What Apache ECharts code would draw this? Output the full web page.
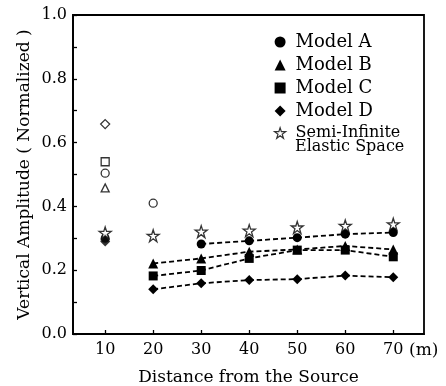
<!DOCTYPE html>
<html>
<head>
<meta charset="utf-8">
<script src="https://cdn.jsdelivr.net/npm/echarts@6/dist/echarts.min.js"></script>
<style>
html,body{margin:0;padding:0;background:#fff;}
#chart{width:446px;height:386px;}
</style>
</head>
<body>
<div id="chart"></div>
<script>
// ---- data ----
var distances = [10, 20, 30, 40, 50, 60, 70];
var tickValues = [10, 20, 30, 40, 50, 60, 70];
var modelA = [null, null, 0.282, 0.292, 0.302, 0.313, 0.318];
var modelB = [null, 0.221, 0.237, 0.258, 0.265, 0.276, 0.265];
var modelC = [null, 0.182, 0.199, 0.237, 0.263, 0.263, 0.242];
var modelD = [null, 0.140, 0.159, 0.169, 0.172, 0.183, 0.178];
var semiInfinite = [0.317, 0.308, 0.321, 0.324, 0.334, 0.339, 0.344];
// isolated filled points at 10 m
var nearA = [[10, 0.300]];
var nearD = [[10, 0.290]];
// open markers
var openA = [[10, 0.504], [20, 0.410]];
var openB = [[10, 0.458]];
var openC = [[10, 0.540]];
var openD = [[10, 0.658]];

var FONT = 'DejaVu Serif';
var STAR = 'path://M50,2 L61,36 L97,36 L68,57 L79,92 L50,70 L21,92 L32,57 L3,36 L39,36 Z';

function pairs(arr) {
  var out = [];
  for (var i = 0; i < distances.length; i++) {
    if (arr[i] !== null) out.push([distances[i], arr[i]]);
  }
  return out;
}

function lineSeries(name, arr, symbol, size) {
  return {
    name: name, type: 'line', data: pairs(arr),
    symbol: symbol, symbolSize: size,
    itemStyle: {color: '#000'},
    lineStyle: {color: '#000', width: 1.8, type: [5, 3]},
    z: 3
  };
}

function openSeries(name, data, symbol, size) {
  return {
    name: name, type: 'scatter', data: data,
    symbol: symbol, symbolSize: size,
    itemStyle: {color: '#fff', borderColor: '#000', borderWidth: 1.3},
    z: 3
  };
}

var chart = echarts.init(document.getElementById('chart'), null, {renderer: 'canvas'});
chart.setOption({
  animation: false,
  backgroundColor: '#fff',
  grid: {left: 73, right: 22, top: 15, bottom: 52, show: true, borderColor: '#000', borderWidth: 1.8,
         containLabel: false, outerBoundsMode: 'none'},
  legend: {
    orient: 'vertical', left: 274, top: 33, padding: 0,
    itemWidth: 11, itemHeight: 11, itemGap: 5,
    textStyle: {fontFamily: FONT, fontSize: 18, color: '#000', padding: [0, 0, 0, 5]},
    formatter: function (n) { return n === 'Semi-Infinite Elastic Space' ? 'Semi-Infinite' : n; },
    data: [
      {name: 'Model A', icon: 'circle', itemStyle: {color: '#000'}},
      {name: 'Model B', icon: 'triangle', itemStyle: {color: '#000'}},
      {name: 'Model C', icon: 'rect', itemStyle: {color: '#000'}},
      {name: 'Model D', icon: 'diamond', itemStyle: {color: '#000'}},
      {name: 'Semi-Infinite Elastic Space', icon: STAR,
       itemStyle: {color: '#fff', borderColor: '#000', borderWidth: 1.2},
       textStyle: {fontSize: 16}}
    ]
  },
  graphic: [{
    type: 'text', left: 295, top: 139,
    style: {text: 'Elastic Space', fontFamily: FONT, fontSize: 16, fill: '#000'}
  }],
  xAxis: [{
    type: 'value', min: 3.3, max: 76.4,
    name: 'Distance from the Source', nameLocation: 'middle', nameGap: 35, nameMoveOverlap: false,
    nameTextStyle: {fontFamily: FONT, fontSize: 17, color: '#000'},
    axisLine: {lineStyle: {color: '#000', width: 1.8}},
    axisTick: {inside: true, length: 4, lineStyle: {color: '#000', width: 1.3}, customValues: tickValues},
    axisLabel: {fontFamily: FONT, fontSize: 16, color: '#000', margin: 8, customValues: tickValues},
    splitLine: {show: false}
  }, {
    type: 'value', min: 3.3, max: 76.4, position: 'bottom',
    name: '(m)', nameLocation: 'end', nameGap: -15, nameMoveOverlap: false,
    nameTextStyle: {fontFamily: FONT, fontSize: 17, color: '#000', verticalAlign: 'top', padding: [8, 0, 0, 0]},
    axisLine: {show: false}, axisTick: {show: false}, axisLabel: {show: false}, splitLine: {show: false}
  }],
  yAxis: {
    type: 'value', min: 0, max: 1, interval: 0.1,
    name: 'Vertical Amplitude ( Normalized )', nameLocation: 'middle', nameGap: 40, nameMoveOverlap: false,
    nameTextStyle: {fontFamily: FONT, fontSize: 17, color: '#000'},
    axisLine: {show: true, lineStyle: {color: '#000', width: 1.8}},
    axisTick: {show: true, inside: true, length: 4, lineStyle: {color: '#000', width: 1.3}},
    axisLabel: {
      fontFamily: FONT, fontSize: 16, color: '#000', margin: 6,
      formatter: function (v) { return Math.round(v * 10) % 2 === 0 ? v.toFixed(1) : ''; }
    },
    splitLine: {show: false}
  },
  series: [
    lineSeries('Model A', modelA, 'circle', 9),
    lineSeries('Model B', modelB, 'triangle', 10),
    lineSeries('Model C', modelC, 'rect', 9),
    lineSeries('Model D', modelD, 'diamond', 10),
    {name: 'Model D', type: 'scatter', data: nearD, symbol: 'diamond', symbolSize: 10, itemStyle: {color: '#000'}, z: 3},
    {name: 'Model A', type: 'scatter', data: nearA, symbol: 'circle', symbolSize: 9, itemStyle: {color: '#000'}, z: 3},
    openSeries('Model A (open)', openA, 'circle', 8),
    openSeries('Model B (open)', openB, 'triangle', 8),
    openSeries('Model C (open)', openC, 'rect', 8),
    openSeries('Model D (open)', openD, 'diamond', 9),
    {
      name: 'Semi-Infinite Elastic Space', type: 'scatter', data: pairs(semiInfinite),
      symbol: STAR, symbolSize: 12,
      itemStyle: {color: '#fff', borderColor: '#000', borderWidth: 1.3},
      z: 5
    }
  ]
});
</script>
</body>
</html>
